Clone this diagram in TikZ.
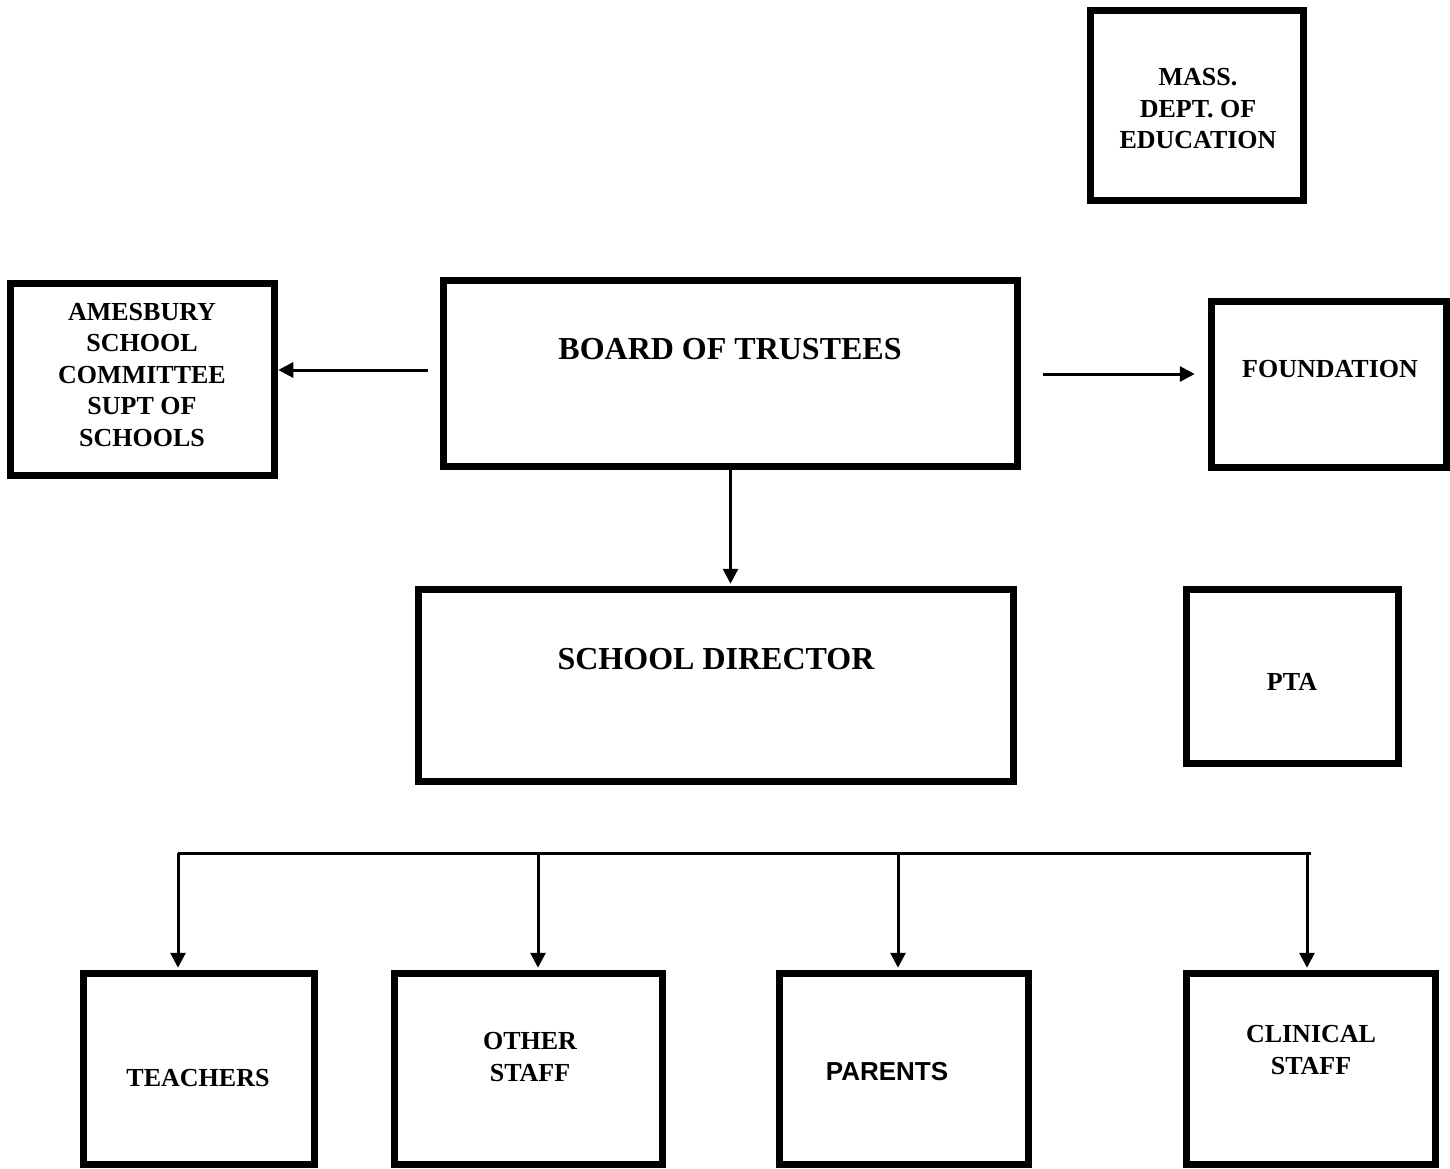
\documentclass[tikz,border=0pt]{standalone}
\usepackage{fontspec}
\setmainfont{Liberation Serif}
\newfontfamily\arialf{Liberation Sans}
\usetikzlibrary{arrows.meta,calc}
\begin{document}
\begin{tikzpicture}[x=1pt,y=-1pt,
  box/.style={draw=black, line width=7.5pt, rectangle, inner sep=0pt},
  lbl/.style={font=\bfseries\fontsize{26}{31.5}\selectfont, align=center, inner sep=0pt},
  biglbl/.style={font=\bfseries\fontsize{32}{38}\selectfont, align=center, inner sep=0pt},
  conn/.style={line width=3pt, -{Triangle[length=15pt,width=15pt]}},
  bus/.style={line width=3pt},
]
\useasboundingbox (0,0) rectangle (1450,1168);
\fill[white] (0,0) rectangle (1450,1168);

% boxes
\node[box, minimum width=213pt, minimum height=190pt] (mass) at (1197,105.5) {};
\node[box, minimum width=264pt, minimum height=192pt] (ames) at (142.5,379.5) {};
\node[box, minimum width=574pt, minimum height=186pt] (board) at (730.5,373.5) {};
\node[box, minimum width=235pt, minimum height=166pt] (found) at (1329,384.5) {};
\node[box, minimum width=595pt, minimum height=192pt] (director) at (716,685.5) {};
\node[box, minimum width=212pt, minimum height=174pt] (pta) at (1292.5,676.5) {};
\node[box, minimum width=231pt, minimum height=191pt] (teachers) at (199,1069) {};
\node[box, minimum width=268pt, minimum height=191pt] (other) at (528.5,1069) {};
\node[box, minimum width=249pt, minimum height=191pt] (parents) at (904,1069) {};
\node[box, minimum width=249pt, minimum height=191pt] (clinical) at (1311,1069) {};

% texts
\node[lbl] (tmass) at (1198,109) {MASS.\\DEPT. OF\\EDUCATION};
\node[lbl] (tames) at (142,375) {AMESBURY\\SCHOOL\\COMMITTEE\\SUPT OF\\SCHOOLS};
\node[biglbl] (tboard) at (730,349) {BOARD OF TRUSTEES};
\node[lbl] (tfound) at (1330,369) {FOUNDATION};
\node[biglbl] (tdir) at (716,659) {SCHOOL DIRECTOR};
\node[lbl] (tpta) at (1292,682) {PTA};
\node[lbl] (tteach) at (198,1078) {TEACHERS};
\node[lbl] (tother) at (530,1057) {OTHER\\STAFF};
\node[lbl, font=\arialf\bfseries\fontsize{26}{31.5}\selectfont] (tparents) at (887,1072) {PARENTS};
\node[lbl] (tclin) at (1311,1050) {CLINICAL\\STAFF};

% connectors from the board
\coordinate (a1) at (428,370);
\draw[conn] (a1) -- (a1 -| ames.east);
\coordinate (f1) at (1043,374);
\draw[conn, shorten >=13pt] (f1) -- (f1 -| found.west);
\draw[conn, shorten >=2pt] (board.south) -- (board.south |- director.north);

% distribution bus
\coordinate (busL) at (178,853);
\coordinate (busR) at (1311,853);
\draw[bus] (busL) -- (busR);
\coordinate (d1) at (178,853);
\coordinate (d2) at (538,853);
\coordinate (d3) at (898,853);
\coordinate (d4) at (1307,853);
\draw[conn, shorten >=2pt] (d1) -- (d1 |- teachers.north);
\draw[conn, shorten >=2pt] (d2) -- (d2 |- other.north);
\draw[conn, shorten >=2pt] (d3) -- (d3 |- parents.north);
\draw[conn, shorten >=2pt] (d4) -- (d4 |- clinical.north);
\end{tikzpicture}
\end{document}
